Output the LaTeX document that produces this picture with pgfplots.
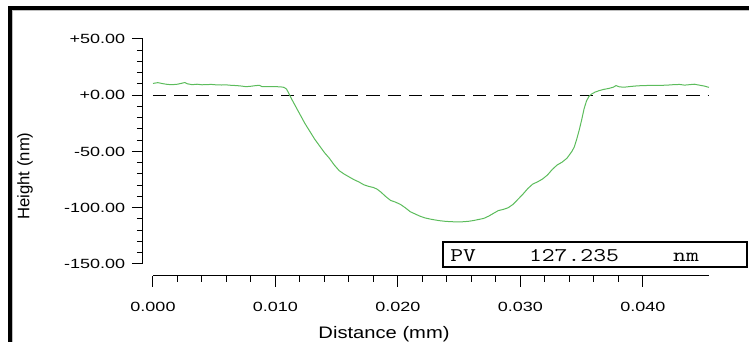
\documentclass[border=0pt]{standalone}
\usepackage{pgfplots}
\pgfplotsset{compat=1.18}
\usepackage{graphicx}
\usepackage{fontspec}
\setmainfont{Liberation Sans}
\definecolor{profile}{RGB}{92,188,92}
% widened glyphs, as on the instrument's screen
\newcommand\tl[1]{\scalebox{1.35}[1]{#1}}
\newcommand\wl[1]{\scalebox{1.21}[1]{#1}}

\pgfplotstableread{
x y
0.0000 10.5
0.0004 11.2
0.0008 10.3
0.0012 9.6
0.0016 9.4
0.0020 9.8
0.0024 10.8
0.0026 11.3
0.0028 10.2
0.0032 9.4
0.0036 9.8
0.0040 9.3
0.0044 9.5
0.0048 9.6
0.0052 9.2
0.0056 9.1
0.0060 9.2
0.0064 8.8
0.0068 8.6
0.0072 8.2
0.0076 7.6
0.0080 8.0
0.0084 8.6
0.0087 8.8
0.0089 7.7
0.0094 7.6
0.0100 7.6
0.0104 7.5
0.0107 7.0
0.0109 5.5
0.0111 1.5
0.0113 -3
0.0116 -9
0.0120 -17
0.0124 -25
0.0128 -32
0.0132 -39
0.0136 -45
0.0140 -51
0.0144 -56
0.0148 -62
0.0152 -67
0.0156 -70
0.0160 -72.5
0.0164 -75
0.0168 -77
0.0172 -79.5
0.0176 -81
0.0180 -82
0.0183 -83.5
0.0186 -86
0.0190 -90
0.0194 -93.5
0.0198 -95
0.0202 -97
0.0206 -100
0.0210 -103.5
0.0214 -105.5
0.0218 -107.5
0.0222 -109
0.0226 -110
0.0230 -110.8
0.0234 -111.5
0.0238 -112
0.0242 -112.3
0.0246 -112.5
0.0250 -112.6
0.0254 -112.4
0.0258 -112
0.0262 -111.3
0.0266 -110.4
0.0270 -109.5
0.0274 -107.5
0.0278 -105
0.0282 -102.5
0.0286 -101.5
0.0290 -100
0.0294 -97
0.0298 -92.5
0.0302 -88
0.0306 -83
0.0310 -79
0.0314 -77
0.0318 -74.5
0.0322 -71
0.0326 -66
0.0330 -62
0.0334 -59.5
0.0338 -56
0.0342 -50
0.0344 -46
0.0346 -39
0.0348 -31
0.0350 -22
0.0352 -12
0.0354 -5
0.0356 -1
0.0358 1
0.0361 2.8
0.0364 4
0.0368 5.2
0.0372 6
0.0376 7.2
0.0378 8.6
0.0381 7.4
0.0385 7.2
0.0390 7.8
0.0395 8.3
0.0400 8.6
0.0405 8.7
0.0410 8.8
0.0415 8.8
0.0420 9.0
0.0425 9.4
0.0430 9.6
0.0434 9.0
0.0438 9.4
0.0442 9.8
0.0446 9.0
0.0450 8.2
0.0454 7.0
}\profiledata

\begin{document}
\begin{tikzpicture}
\path[use as bounding box] (0,0) rectangle (561.75pt,256.5pt);
% window frame
\fill[black] (6pt,249pt) rectangle (561.75pt,252pt);
\fill[black] (6pt,0pt) rectangle (9pt,252pt);
\draw[black!25, line width=0.6pt] (9.3pt,0pt) -- (9.3pt,248.7pt) -- (561.75pt,248.7pt);

\begin{axis}[
  at={(114.75pt,58.5pt)}, anchor=south west,
  scale only axis, width=417pt, height=168.75pt,
  xmin=0, xmax=0.0454, ymin=-150, ymax=50,
  axis lines*=left,
  axis x line shift=9pt, axis y line shift=7.5pt,
  axis line style={black, line width=0.75pt},
  tick style={black, line width=0.75pt},
  tick align=outside,
  major tick length=8.25pt, minor tick length=4.5pt,
  scaled x ticks=false, scaled y ticks=false,
  xtick={0,0.01,0.02,0.03,0.04},
  xticklabels={\tl{0.000},\tl{0.010},\tl{0.020},\tl{0.030},\tl{0.040}},
  minor x tick num=4,
  ytick={-150,-100,-50,0,50},
  yticklabels={\tl{-150.00},\tl{-100.00},\tl{-50.00},\tl{+0.00},\tl{+50.00}},
  minor y tick num=4,
  ticklabel style={font=\fontsize{10}{12}\selectfont, inner sep=0pt},
  yticklabel style={anchor=east, xshift=-5pt},
  xticklabel style={anchor=north, yshift=-11pt},
  xlabel={\wl{Distance (mm)}},
  ylabel={Height (nm)},
  label style={font=\fontsize{12.5}{14}\selectfont, inner sep=0pt},
  xlabel style={at={(axis description cs:0.4155,-0.33)}, anchor=base},
  ylabel style={at={(axis description cs:-0.230,0.391)}, anchor=center, rotate=0},
  clip=false,
]
\addplot[black, line width=0.75pt, dash pattern=on 10pt off 6pt] coordinates {(0,0) (0.0454,0)};
\addplot[profile, line width=0.75pt] table[x=x,y=y] {\profiledata};
\end{axis}

% peak-to-valley readout
\draw[black, line width=1.5pt, fill=white] (332.25pt,56.25pt) rectangle (560.25pt,75pt);
\node[anchor=base west, inner sep=0pt, font=\ttfamily\fontsize{14.5}{16}\selectfont] at (337.5pt,60pt) {\scalebox{1.29}[1]{PV}};
\node[anchor=base, inner sep=0pt, font=\ttfamily\fontsize{14.5}{16}\selectfont] at (430.5pt,60pt) {\scalebox{1.29}[1]{127.235}};
\node[anchor=base, inner sep=0pt, font=\ttfamily\fontsize{14.5}{16}\selectfont] at (514.5pt,60pt) {\scalebox{1.29}[1]{nm}};
\end{tikzpicture}
\end{document}
